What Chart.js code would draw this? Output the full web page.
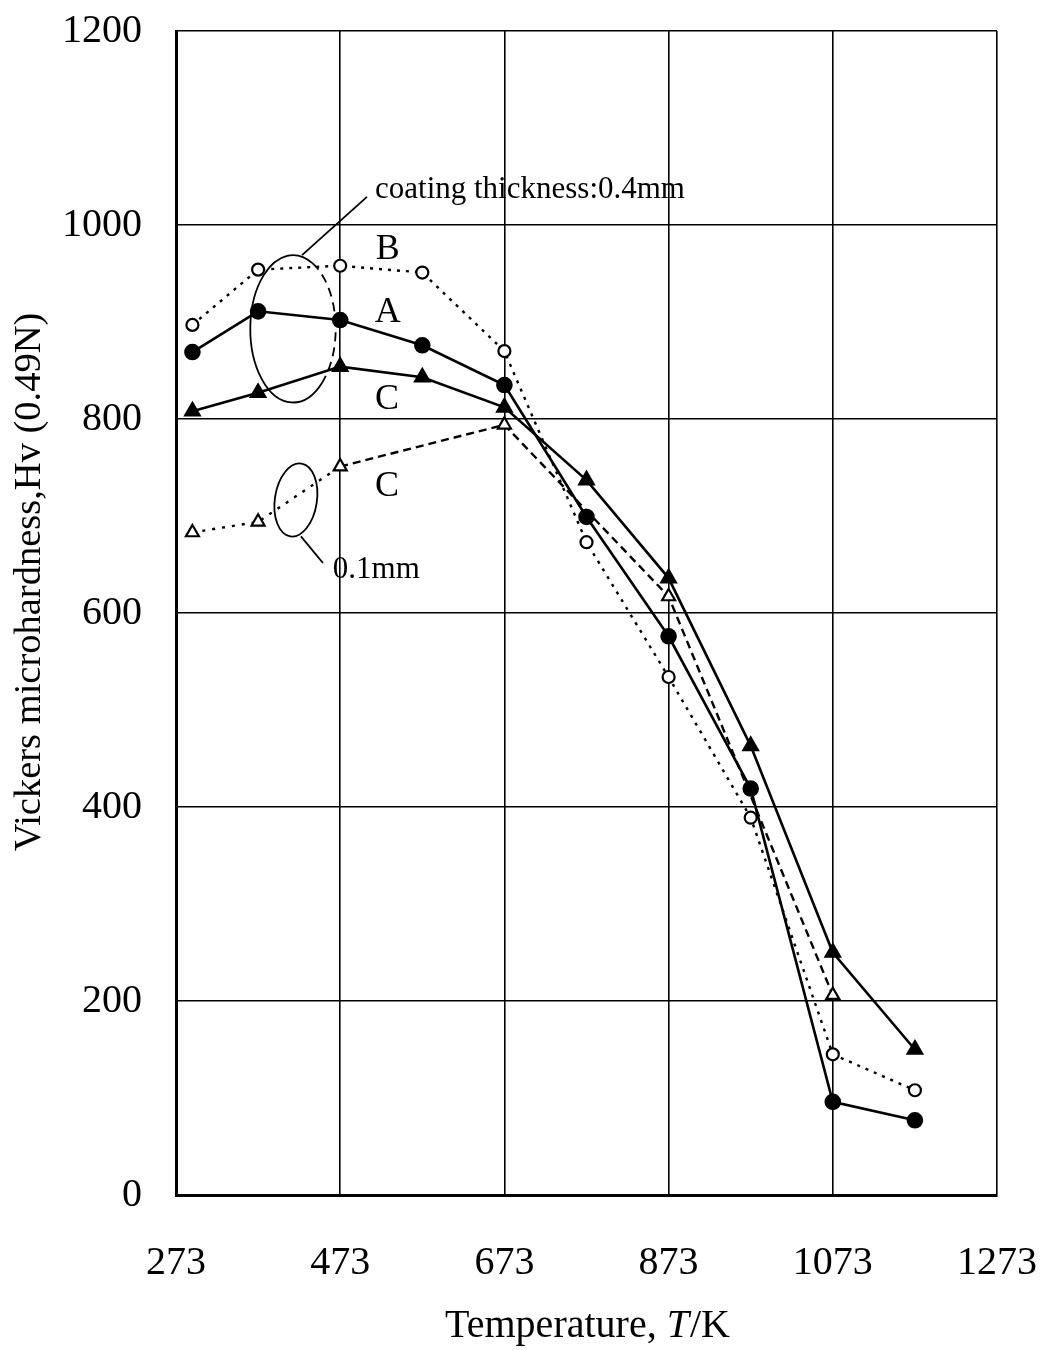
<!DOCTYPE html>
<html>
<head>
<meta charset="utf-8">
<title>Vickers microhardness vs temperature</title>
<script src="https://cdn.jsdelivr.net/npm/chart.js@4.4.1/dist/chart.umd.min.js"></script>
<style>
  html, body { margin: 0; padding: 0; background: #fff; }
  #wrap { width: 1043px; height: 1350px; position: relative; }
</style>
</head>
<body>
<div id="wrap"><canvas id="chart" width="1043" height="1350"></canvas></div>
<script>
// Test temperatures (K)
const temps = [293, 373, 473, 573, 673, 773, 873, 973, 1073, 1173];
const tempsC01 = [293, 373, 473, 673, 873, 1073];

// Vickers microhardness Hv(0.49N)
const hvA = [869, 911, 902, 876, 835, 699, 576, 419, 96, 77];
const hvB = [897, 954, 958, 951, 870, 673, 534, 389, 145, 108];
const hvC04 = [808, 827, 854, 843, 812, 737, 636, 463, 250, 150];
const hvC01 = [683, 694, 751, 794, 617, 206];

// Axis ticks
const xTicks = [273, 473, 673, 873, 1073, 1273];
const yTicks = [0, 200, 400, 600, 800, 1000, 1200];

const SERIF = "'Liberation Serif', 'Times New Roman', serif";

const pts = (xs, ys) => xs.map((x, i) => ({ x: x, y: ys[i] }));

// Titles, labels, ellipses and leader lines drawn on top of the plot
const notes = {
  id: 'notes',
  afterDatasetsDraw(chart) {
    const ctx = chart.ctx;
    const xs = chart.scales.x, ys = chart.scales.y;
    const X = v => xs.getPixelForValue(v);
    const Y = v => ys.getPixelForValue(v);
    const pxPerX = Math.abs(X(373) - X(273)) / 100;
    const pxPerY = Math.abs(Y(0) - Y(100)) / 100;

    ctx.save();
    ctx.strokeStyle = '#000';
    ctx.fillStyle = '#000';
    ctx.lineWidth = 1.8;

    // 0.4 mm group ellipse: solid on the left, dashed on the right
    const e1x = X(415.5), e1y = Y(893), e1rx = 52 * pxPerX, e1ry = 76 * pxPerY;
    const a0 = -63 * Math.PI / 180, a1 = 47 * Math.PI / 180;
    ctx.setLineDash([]);
    ctx.beginPath();
    ctx.ellipse(e1x, e1y, e1rx, e1ry, 0, a1, a0 + 2 * Math.PI);
    ctx.stroke();
    ctx.setLineDash([9, 6]);
    ctx.beginPath();
    ctx.ellipse(e1x, e1y, e1rx, e1ry, 0, a0, a1);
    ctx.stroke();
    ctx.setLineDash([]);
    // leader
    ctx.beginPath();
    ctx.moveTo(X(426.5), Y(969));
    ctx.lineTo(X(505.6), Y(1029));
    ctx.stroke();

    // 0.1 mm group ellipse
    ctx.beginPath();
    ctx.ellipse(X(419), Y(716.5), 25.6 * pxPerX, 38 * pxPerY, 0.15, 0, 2 * Math.PI);
    ctx.stroke();
    ctx.beginPath();
    ctx.moveTo(X(425.2), Y(679));
    ctx.lineTo(X(452), Y(651.5));
    ctx.stroke();

    // text labels
    ctx.textBaseline = 'alphabetic';
    ctx.textAlign = 'left';
    ctx.font = '31px ' + SERIF;
    ctx.fillText('coating thickness:0.4mm', X(515.4), Y(1028));
    ctx.textBaseline = 'middle';
    ctx.fillText('0.1mm', X(464), Y(644));

    ctx.textAlign = 'center';
    ctx.font = '36px ' + SERIF;
    ctx.fillText('B', X(531), Y(975));
    ctx.fillText('A', X(531), Y(910));
    ctx.fillText('C', X(530), Y(820));
    ctx.fillText('C', X(530), Y(730));

    // axis titles
    ctx.textBaseline = 'middle';
    ctx.font = '40px ' + SERIF;
    const t1 = 'Temperature, ', t2 = 'T', t3 = '/K';
    const w1 = ctx.measureText(t1).width, w3 = ctx.measureText(t3).width;
    ctx.font = 'italic 40px ' + SERIF;
    const w2 = ctx.measureText(t2).width;
    const tx = 587 - (w1 + w2 + w3) / 2;
    const ty = 1326;
    ctx.textAlign = 'left';
    ctx.font = '40px ' + SERIF;
    ctx.fillText(t1, tx, ty);
    ctx.font = 'italic 40px ' + SERIF;
    ctx.fillText(t2, tx + w1, ty);
    ctx.font = '40px ' + SERIF;
    ctx.fillText(t3, tx + w1 + w2 + 1, ty);

    ctx.translate(30, 582);
    ctx.rotate(-Math.PI / 2);
    ctx.textAlign = 'center';
    ctx.font = '38.5px ' + SERIF;
    ctx.fillText('Vickers microhardness,Hv (0.49N)', 0, 0);
    ctx.restore();
  }
};

new Chart(document.getElementById('chart'), {
  type: 'line',
  data: {
    datasets: [
      {
        label: 'B',
        data: pts(temps, hvB),
        borderColor: '#000',
        borderWidth: 2.4,
        borderDash: [3, 6],
        pointStyle: 'circle',
        pointRadius: 6,
        pointBorderWidth: 2.2,
        pointBackgroundColor: '#fff',
        pointBorderColor: '#000',
        tension: 0
      },
      {
        label: 'A',
        data: pts(temps, hvA),
        borderColor: '#000',
        borderWidth: 2.6,
        pointStyle: 'circle',
        pointRadius: 7,
        pointBackgroundColor: '#000',
        pointBorderColor: '#000',
        tension: 0
      },
      {
        label: 'C 0.4mm',
        data: pts(temps, hvC04),
        borderColor: '#000',
        borderWidth: 2.6,
        pointStyle: 'triangle',
        pointRadius: 8,
        pointBackgroundColor: '#000',
        pointBorderColor: '#000',
        tension: 0
      },
      {
        label: 'C 0.1mm',
        data: pts(tempsC01, hvC01),
        borderColor: '#000',
        borderWidth: 2.4,
        segment: {
          borderDash: c => (c.p1DataIndex <= 2 ? [3, 7] : [8, 5])
        },
        pointStyle: 'triangle',
        pointRadius: 7.5,
        pointBorderWidth: 2.2,
        pointBackgroundColor: '#fff',
        pointBorderColor: '#000',
        tension: 0
      }
    ]
  },
  options: {
    responsive: false,
    devicePixelRatio: 1,
    animation: false,
    layout: { padding: { top: 31, right: 46, left: 0, bottom: 0 } },
    plugins: {
      legend: { display: false },
      tooltip: { enabled: false }
    },
    scales: {
      x: {
        type: 'linear',
        min: 273,
        max: 1273,
        afterBuildTicks: s => { s.ticks = xTicks.map(v => ({ value: v })); },
        afterFit: s => { s.height = 155; },
        grid: { color: '#000', lineWidth: 1.6, drawTicks: true, tickLength: 44, tickColor: 'rgba(0,0,0,0)' },
        border: { color: '#000', width: 3 },
        ticks: {
          color: '#000',
          font: { family: SERIF, size: 40 },
          padding: 0,
          maxRotation: 0,
          callback: v => String(v)
        }
      },
      y: {
        type: 'linear',
        min: 0,
        max: 1200,
        afterBuildTicks: s => { s.ticks = yTicks.map(v => ({ value: v })); },
        afterFit: s => { s.width = 176; },
        grid: { color: '#000', lineWidth: 1.6, drawTicks: true, tickLength: 34, tickColor: 'rgba(0,0,0,0)' },
        border: { color: '#000', width: 3 },
        ticks: {
          color: '#000',
          font: { family: SERIF, size: 40 },
          padding: 0,
          callback: v => String(v)
        }
      }
    }
  },
  plugins: [notes]
});
</script>
</body>
</html>
